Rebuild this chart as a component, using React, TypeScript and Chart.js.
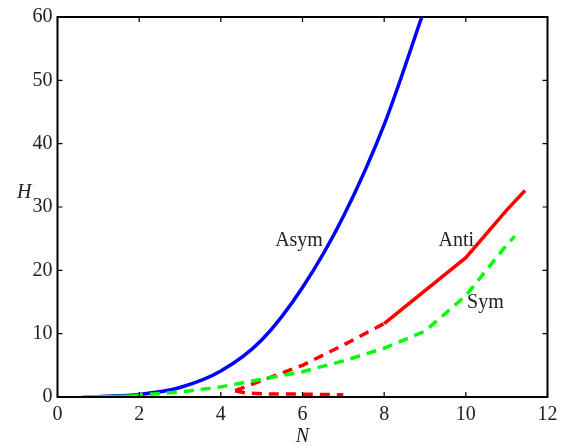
import React, { useEffect, useRef } from "react";
import { Chart, registerables } from "chart.js";

Chart.register(...registerables);

// ---- data ----
const asymN = [1, 2, 3, 4, 5, 6, 7, 8, 9];
const asymH = [0.05, 0.4, 1.5, 4.1, 9.0, 17.3, 28.5, 43, 61.5];

const antiDashN = [4.35, 5, 6, 7, 8];
const antiDashH = [1.0, 2.6, 5.0, 8.2, 11.6];
const antiSolidN = [8, 9, 10, 11, 11.45];
const antiSolidH = [11.6, 16.8, 22.0, 29.5, 32.6];
const antiLowN = [4.35, 4.6, 5, 6, 7];
const antiLowH = [1.0, 0.65, 0.5, 0.45, 0.35];

const symSolidN = [0.6, 1, 1.5, 1.85];
const symSolidH = [0.0, 0.03, 0.08, 0.15];
const symDashN = [1.85, 2, 3, 4, 5, 6, 7, 8, 9, 10, 11, 11.2];
const symDashH = [0.15, 0.3, 0.8, 1.6, 2.8, 4.0, 5.7, 7.7, 10.4, 16, 24, 25.4];

const xTicks = [0, 2, 4, 6, 8, 10, 12];
const yTicks = [0, 10, 20, 30, 40, 50, 60];

const curveLabels = ["Asym", "Anti", "Sym"];
const curveLabelN = [5.33, 9.33, 10.03];
const curveLabelH = [23.9, 23.9, 14.0];

const xTitle = "N";
const yTitle = "H";

const pts = (xs: number[], ys: number[]) => xs.map((x, i) => ({ x, y: ys[i] }));

const SERIF = "'Liberation Serif', 'Times New Roman', serif";

const framePlugin = {
  id: "frame",
  afterDatasetsDraw(chart: any) {
    const { ctx, chartArea: a, scales } = chart;
    const xs = scales.x;
    const ys = scales.y;
    ctx.save();
    ctx.strokeStyle = "#000";
    // inward ticks
    ctx.lineWidth = 1.2;
    ctx.beginPath();
    xTicks.forEach((v) => {
      const px = xs.getPixelForValue(v);
      ctx.moveTo(px, a.bottom);
      ctx.lineTo(px, a.bottom - 5);
      ctx.moveTo(px, a.top);
      ctx.lineTo(px, a.top + 5);
    });
    yTicks.forEach((v) => {
      const py = ys.getPixelForValue(v);
      ctx.moveTo(a.left, py);
      ctx.lineTo(a.left + 5, py);
      ctx.moveTo(a.right, py);
      ctx.lineTo(a.right - 5, py);
    });
    ctx.stroke();
    // box
    ctx.lineWidth = 2;
    ctx.strokeRect(a.left, a.top, a.right - a.left, a.bottom - a.top);

    // curve labels
    ctx.fillStyle = "#222";
    ctx.font = `20px ${SERIF}`;
    ctx.textAlign = "left";
    ctx.textBaseline = "alphabetic";
    curveLabels.forEach((t, i) => {
      ctx.fillText(t, xs.getPixelForValue(curveLabelN[i]), ys.getPixelForValue(curveLabelH[i]));
    });

    // axis titles
    ctx.font = `italic 20px ${SERIF}`;
    ctx.textAlign = "center";
    ctx.fillText(xTitle, xs.getPixelForValue(6), 442);
    ctx.textAlign = "left";
    ctx.fillText(yTitle, 17, 198);
    ctx.restore();
  },
};

export default function App() {
  const ref = useRef<HTMLCanvasElement | null>(null);
  useEffect(() => {
    if (!ref.current) return;
    const dashed = [10, 7];
    const W = 3.5;
    const chart = new Chart(ref.current, {
      type: "line",
      data: {
        datasets: [
          {
            data: pts(symSolidN, symSolidH),
            borderColor: "#00ff00",
            borderWidth: W,
            tension: 0,
          },
          {
            data: pts(symDashN, symDashH),
            borderColor: "#00ff00",
            borderWidth: W,
            borderDash: dashed,
            tension: 0,
          },
          {
            data: pts(antiSolidN, antiSolidH),
            borderColor: "#ff0000",
            borderWidth: W,
            tension: 0,
          },
          {
            data: pts(antiDashN, antiDashH),
            borderColor: "#ff0000",
            borderWidth: W,
            borderDash: dashed,
            tension: 0,
          },
          {
            data: pts(antiLowN, antiLowH),
            borderColor: "#ff0000",
            borderWidth: W,
            borderDash: dashed,
            tension: 0,
          },
          {
            data: pts(asymN, asymH),
            borderColor: "#0000ff",
            borderWidth: W,
            cubicInterpolationMode: "monotone",
          },
        ] as any,
      },
      options: {
        animation: false,
        responsive: false,
        devicePixelRatio: 1,
        parsing: false as any,
        elements: { point: { radius: 0, hoverRadius: 0 }, line: { borderCapStyle: "butt" } },
        layout: { padding: { top: 9.5, right: 24.5, left: 0, bottom: 0 } },
        plugins: { legend: { display: false }, tooltip: { enabled: false } },
        scales: {
          x: {
            type: "linear",
            min: 0,
            max: 12,
            afterFit: (s: any) => {
              s.height = 51;
            },
            afterBuildTicks: (s: any) => {
              s.ticks = xTicks.map((v) => ({ value: v }));
            },
            grid: { display: false, drawTicks: false },
            border: { display: false },
            ticks: {
              padding: 6,
              color: "#222",
              font: { family: SERIF, size: 20 },
              maxRotation: 0,
            },
          },
          y: {
            type: "linear",
            min: 0,
            max: 60,
            afterFit: (s: any) => {
              s.width = 57.5;
            },
            afterBuildTicks: (s: any) => {
              s.ticks = yTicks.map((v) => ({ value: v }));
            },
            grid: { display: false, drawTicks: false },
            border: { display: false },
            ticks: {
              padding: 5,
              color: "#222",
              font: { family: SERIF, size: 20 },
            },
          },
        },
      },
      plugins: [framePlugin],
    });
    return () => chart.destroy();
  }, []);
  return (
    <div style={{ position: "fixed", left: 0, top: 0, width: 572, height: 448, background: "#fff" }}>
      <canvas ref={ref} width={572} height={448} style={{ width: 572, height: 448, display: "block" }} />
    </div>
  );
}
